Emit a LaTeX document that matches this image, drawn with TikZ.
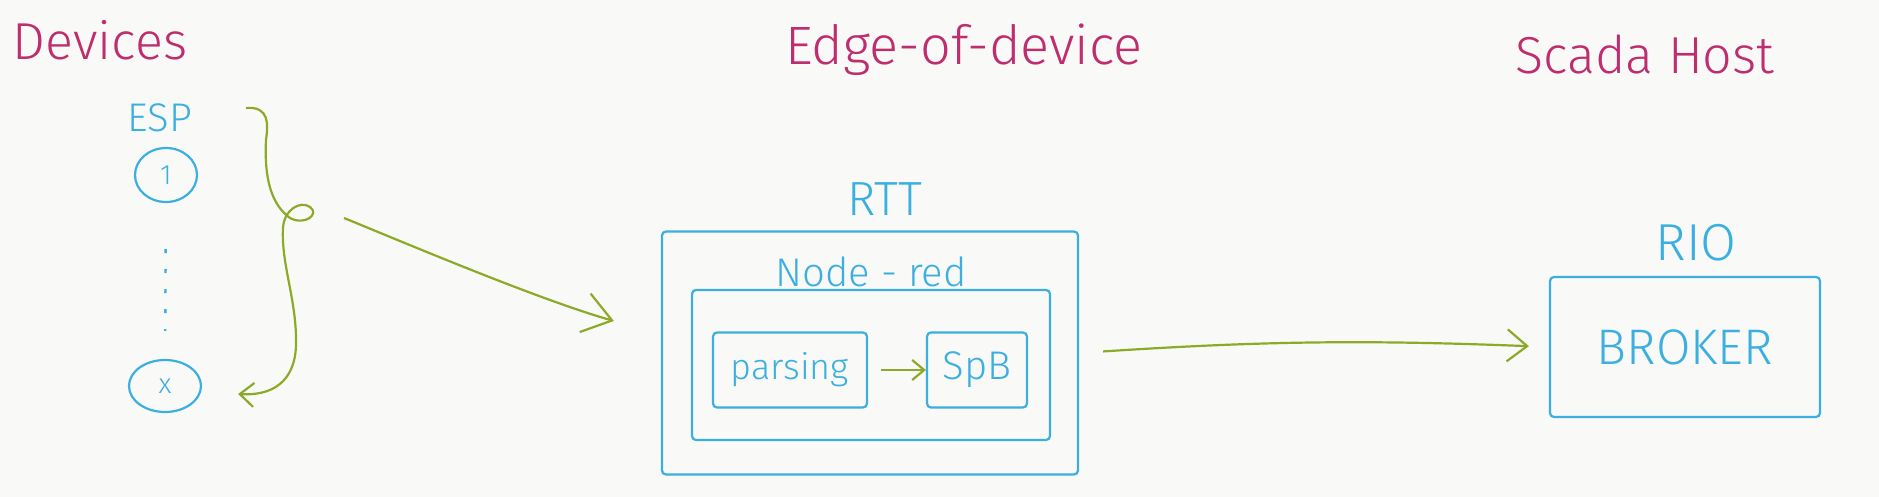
\documentclass[tikz,border=0pt]{standalone}
\usepackage{fontspec}
\setmainfont{Fira Sans}[UprightFont={* Light}]
\usepackage{tikz}
\usetikzlibrary{arrows.meta,positioning,shapes.geometric}
\definecolor{inkpink}{RGB}{190,45,110}
\definecolor{inkblue}{RGB}{60,175,225}
\definecolor{inkgreen}{RGB}{140,170,40}
\definecolor{paper}{RGB}{249,249,247}
\tikzset{
  header/.style={text=inkpink, inner sep=1pt, font=\fontsize{26}{30}\selectfont},
  blbl/.style={text=inkblue, inner sep=1pt, font=\fontsize{#1}{#1}\selectfont},
  sketchbox/.style={rectangle, draw=inkblue, line width=1.1pt, rounded corners=2pt},
  devnode/.style={ellipse, draw=inkblue, line width=1.1pt, inner sep=0pt,
                  text=inkblue, font=\fontsize{14}{14}\selectfont},
  devdots/.style={draw=inkblue, line width=1.2pt, dash pattern=on 2pt off 8pt},
  flow/.style={draw=inkgreen, line width=1.1pt,
               -{Straight Barb[length=10pt,width=16pt]}},
}

\begin{document}
\begin{tikzpicture}[x=0.5pt, y=-0.5pt]
  % paper
  \fill[paper] (0,0) rectangle (1879,497);
  \useasboundingbox (0,0) rectangle (1879,497);
  % column headers
  \node[header] (devhd) at (100,40) {Devices};
  \node[header, anchor=base, font=\fontsize{27}{30}\selectfont] (edgehd) at (964,65) {Edge-of-device};
  \node[header, anchor=base] (scadahd) at (1645,74) {Scada Host};
  % devices
  \node[blbl=20] (esp) at (160,118) {ESP};
  \node[devnode, minimum width=31pt, minimum height=27pt] (dev1) at (166,175) {1};
  \node[devnode, minimum width=36pt, minimum height=26pt] (devx) at (165,386) {x};
  \draw[devdots, shorten <=23pt, shorten >=14pt] (dev1) -- (devx);
  % grouping brace
  \coordinate (bt) at (246,108);
  \coordinate (grp) at (344,218);
  \draw[flow, -{Straight Barb[length=7pt,width=12pt]}]
    (bt) .. controls (270,106) and (268,125) .. (266,140)
    .. controls (264,180) and (272,205) .. (290,218)
    .. controls (305,226) and (320,214) .. (310,207)
    .. controls (300,200) and (284,210) .. (283,228)
    .. controls (281,265) and (297,300) .. (296,345)
    .. controls (295,382) and (272,396) .. ([xshift=18pt,yshift=-4pt]devx.east);
  % edge of device
  \node[sketchbox, minimum width=208pt, minimum height=121.5pt] (rtt) at (870,353) {};
  \node[blbl=24, above=6pt of rtt, xshift=7.5pt] (rttlbl) {RTT};
  \node[sketchbox, minimum width=179pt, minimum height=75pt] (nodered) at (871,365) {};
  \node[blbl=20, above=0pt of nodered] (noderedlbl) {Node - red};
  \node[sketchbox, blbl=18, minimum width=77pt, minimum height=37.5pt] (parsing) at (790,370) {parsing};
  \node[sketchbox, blbl=20, minimum width=50pt, minimum height=37.5pt] (spb) at (977,370) {SpB};
  % scada host
  \node[sketchbox, blbl=25, minimum width=135pt, minimum height=70pt] (rio) at (1685,347) {BROKER};
  \node[blbl=26, above=6pt of rio, xshift=5.5pt] (riolbl) {RIO};
  % flows
  \draw[flow, -{Straight Barb[length=14pt,width=20pt]}]
    (grp) .. controls (410,245) and (540,300) .. ([xshift=-23.5pt,yshift=16pt]rtt.west);
  \draw[flow, -{Straight Barb[length=6pt,width=10pt]}, shorten <=6.5pt] (parsing) -- (spb);
  \draw[flow, shorten <=12pt, shorten >=10pt] (rtt.east) to[bend left=3] (rio.west);
\end{tikzpicture}
\end{document}
